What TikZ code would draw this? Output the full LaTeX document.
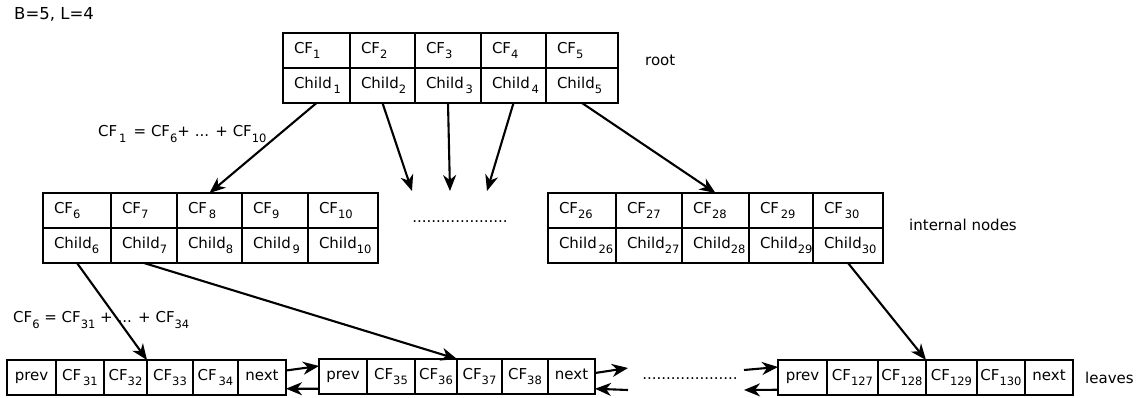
\documentclass[tikz,border=0pt]{standalone}
\usepackage{fontspec}
\setmainfont{DejaVu Sans}
\usetikzlibrary{arrows.meta,calc}
% lowered, smaller index after a label
\newcommand\sbs[1]{\raisebox{-0.36em}{\fontsize{11.5}{12}\selectfont#1}}
\newcommand\sbg[1]{\kern1.8pt\sbs{#1}}
\begin{document}
\begin{tikzpicture}[x=1pt,y=-1pt,
  every node/.style={font=\fontsize{15}{17}\selectfont},
  box/.style={draw, line width=2.1pt, rectangle, anchor=north west, outer sep=0pt,
    minimum height=35pt, inner ysep=0pt, text height=10.5pt, text depth=4.5pt},
  tcell/.style={box, inner xsep=11pt, align=left},
  lcell/.style={box, inner xsep=0pt, align=center},
  arr/.style={line width=2.1pt, -{Stealth[length=16pt,width=13pt,inset=5pt]}},
  lbl/.style={anchor=west, inner sep=0pt}]
\useasboundingbox (0,0) rectangle (1140,397);

% header
\node[lbl, font=\fontsize{16.5}{18}\selectfont] (hdr) at (14,14) {B=5, L=4};

% root node: CF row and child row
\foreach \n/\x/\w/\t in {rc1/283/67/{CF\sbs{1}}, rc2/350/65/{CF\sbs{2}}, rc3/415/66/{CF\sbs{3}},
    rc4/481/65/{CF\sbs{4}}, rc5/546/72/{CF\sbs{5}}} {
  \pgfmathsetmacro\tw{\w-22}
  \node[tcell, minimum width=\w, text width=\tw pt] (\n) at (\x,33) {\t};
}
\foreach \n/\x/\w/\t in {rh1/283/67/{Child\sbg{1}}, rh2/350/65/{Child\sbs{2}}, rh3/415/66/{Child\sbg{3}},
    rh4/481/65/{Child\sbg{4}}, rh5/546/72/{Child\sbs{5}}} {
  \pgfmathsetmacro\tw{\w-22}
  \node[tcell, minimum width=\w, text width=\tw pt] (\n) at (\x,68) {\t};
}
\node[lbl] (rootlbl) at (645,60) {root};

% left internal node
\foreach \n/\x/\w/\t in {ac6/43/68/{CF\sbs{6}}, ac7/111/66/{CF\sbs{7}}, ac8/177/65/{CF\sbg{8}},
    ac9/242/66/{CF\sbs{9}}, ac10/308/70/{CF\sbs{10}}} {
  \pgfmathsetmacro\tw{\w-22}
  \node[tcell, minimum width=\w, text width=\tw pt] (\n) at (\x,193) {\t};
}
\foreach \n/\x/\w/\t in {ah6/43/68/{Child\sbs{6}}, ah7/111/66/{Child\sbs{7}}, ah8/177/65/{Child\sbs{8}},
    ah9/242/66/{Child\sbg{9}}, ah10/308/70/{Child\sbs{10}}} {
  \pgfmathsetmacro\tw{\w-22}
  \node[tcell, minimum width=\w, text width=\tw pt] (\n) at (\x,228) {\t};
}

% right internal node
\foreach \n/\x/\w/\t in {bc26/548/68/{CF\sbs{26}}, bc27/616/66/{CF\sbs{27}}, bc28/682/67/{CF\sbs{28}},
    bc29/749/64/{CF\sbg{29}}, bc30/813/70/{CF\sbg{30}}} {
  \pgfmathsetmacro\tw{\w-22}
  \node[tcell, minimum width=\w, text width=\tw pt] (\n) at (\x,193) {\t};
}
\foreach \n/\x/\w/\t in {bh26/548/68/{Child\sbg{26}}, bh27/616/66/{Child\sbs{27}}, bh28/682/67/{Child\sbs{28}},
    bh29/749/64/{Child\sbs{29}}, bh30/813/70/{Child\sbs{30}}} {
  \pgfmathsetmacro\tw{\w-22}
  \node[tcell, minimum width=\w, text width=\tw pt] (\n) at (\x,228) {\t};
}
\node[lbl] (intlbl) at (909,225) {internal nodes};

% leaves
\foreach \n/\x/\w/\t in {p1/7/49/prev, f31/56/48/{CF\sbg{31}}, f32/104/43/{CF\sbs{32}},
    f33/147/46/{CF\sbs{33}}, f34/193/45/{CF\sbg{34}}, n1/238/48/next} {
  \node[lcell, minimum width=\w] (\n) at (\x,360) {\t};
}
\foreach \n/\x/\w/\t in {p2/319/48/prev, f35/367/48/{CF\sbs{35}}, f36/415/42/{CF\sbs{36}},
    f37/457/45/{CF\sbs{37}}, f38/502/46/{CF\sbs{38}}, n2/548/47/next} {
  \node[lcell, minimum width=\w] (\n) at (\x,359) {\t};
}
\foreach \n/\x/\w/\t in {p3/778/49/prev, f127/827/51/{CF\sbs{127}}, f128/878/48/{CF\sbs{128}},
    f129/926/51/{CF\sbs{129}}, f130/977/48/{CF\sbs{130}}, n3/1025/48/next} {
  \node[lcell, minimum width=\w] (\n) at (\x,360) {\t};
}
\node[lbl] (leaflbl) at (1085,378) {leaves};

% sums of clustering features
\node[lbl] (sum1) at (98,134) {CF\sbg{1}\, = CF\sbs{6}+ ... + CF\sbs{10}};
\node[lbl] (sum2) at (13,320) {CF\sbs{6} = CF\sbs{31} + ... + CF\sbs{34}};

% elided nodes
\node[inner sep=0pt] (dots1) at (460,222) {....................};
\node[inner sep=0pt] (dots2) at (690,379) {....................};

% free arrow ends
\coordinate (e2) at (412,191);
\coordinate (e3) at (450,191);
\coordinate (e4) at (487,191);
\coordinate (o2) at (628,368);
\coordinate (i2) at (628,390);
\coordinate (o3) at (744,370);
\coordinate (i3) at (744,390);

% child pointers
\draw[arr] (rh1.south) -- (ac8.north);
\draw[arr] (rh2.south) -- (e2);
\draw[arr] (rh3.south) -- (e3);
\draw[arr] (rh4.south) -- (e4);
\draw[arr] (rh5.south) -- (bc28.north);
\draw[arr] (ah6.south) -- (f32.north east);
\draw[arr] (ah7.south) -- (f36.north east);
\draw[arr] (bh30.south) -- (f128.north east);

% leaf chain links
\draw[arr] ($(n1.north east)!0.3!(n1.south east)$) -- ($(p2.north west)!0.2!(p2.south west)$);
\draw[arr] ($(p2.north west)!0.85!(p2.south west)$) -- ($(n1.north east)!0.82!(n1.south east)$);
\draw[arr] ($(n2.north east)!0.4!(n2.south east)$) -- (o2);
\draw[arr] (i2) -- ($(n2.north east)!0.85!(n2.south east)$);
\draw[arr] (o3) -- ($(p3.north west)!0.2!(p3.south west)$);
\draw[arr] ($(p3.north west)!0.85!(p3.south west)$) -- (i3);
\end{tikzpicture}
\end{document}
